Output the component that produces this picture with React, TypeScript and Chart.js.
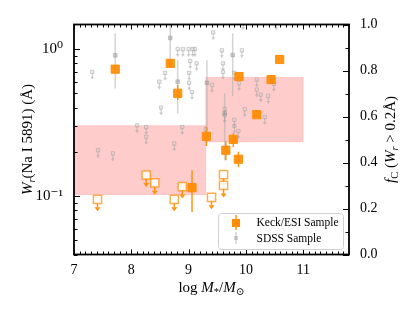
import React, { useEffect, useRef } from 'react';
import { Chart, registerables } from 'chart.js';
Chart.register(...registerables);

// ---------- data ----------
// Keck/ESI detections
const keckDetX = [7.72, 8.68, 8.81, 9.31, 9.88, 10.44, 10.59, 10.19, 9.78, 9.65, 9.87, 9.06];
const keckDetW = [0.73, 0.80, 0.50, 0.255, 0.65, 0.62, 0.85, 0.358, 0.243, 0.205, 0.178, 0.114];
const keckDetLo = [0.72, 0.76, 0.45, 0.219, 0.64, 0.61, 0.84, 0.35, 0.216, 0.175, 0.157, 0.078];
const keckDetHi = [0.74, 0.84, 0.57, 0.295, 0.66, 0.63, 0.86, 0.366, 0.267, 0.237, 0.2, 0.15];
// Keck/ESI upper limits
const keckUlX = [7.41, 8.26, 8.41, 8.75, 8.89, 9.40, 9.61, 9.61];
const keckUlW = [0.095, 0.139, 0.123, 0.095, 0.116, 0.098, 0.14, 0.118];
// SDSS detections
const sdssDetX = [7.72, 8.68, 8.81, 9.32, 9.63, 9.77];
const sdssDetW = [0.906, 1.19, 0.6, 0.59, 0.366, 0.91];
const sdssDetLo = [0.54, 0.78, 0.366, 0.28, 0.175, 0.48];
const sdssDetHi = [1.28, 1.5, 0.84, 0.84, 0.5, 1.28];
// SDSS upper limits
const sdssUlX = [7.32, 7.42, 7.68, 8.10, 8.26, 8.26, 8.49, 8.52, 8.59, 8.75, 8.81, 8.89, 8.90, 9.00, 9.01, 9.01, 9.03, 9.06, 9.07, 9.11, 9.14, 9.30, 9.41, 9.43, 9.58, 9.60, 9.60, 9.63, 9.63, 9.80, 9.80, 9.80, 9.87, 9.88, 9.93, 9.95, 9.98, 10.19, 10.19, 10.26, 10.33, 10.39, 10.49, 10.53];
const sdssUlW = [0.70, 0.205, 0.195, 0.303, 0.295, 0.253, 0.60, 0.40, 0.69, 0.228, 1.0, 0.295, 1.0, 1.0, 0.69, 0.59, 0.83, 0.51, 1.0, 1.0, 0.80, 0.284, 0.57, 1.30, 0.98, 0.80, 0.70, 0.39, 0.355, 0.69, 0.33, 0.30, 0.277, 0.585, 0.98, 1.52, 0.39, 0.62, 0.53, 0.49, 0.345, 0.48, 0.58, 1.52];
// covering fraction boxes (x range, fC range)
const boxXmin = [7.0, 9.3];
const boxXmax = [9.3, 11.0];
const boxFcLo = [0.26, 0.49];
const boxFcHi = [0.56, 0.77];
// ticks
const xTickVals = [7, 8, 9, 10, 11];
const wTickVals = [0.1, 1];
const wTickLabels = ['10\u207B\u00B9', '10\u2070'];
const fcTickVals = [0, 0.2, 0.4, 0.6, 0.8, 1.0];
const legendLabels = ['Keck/ESI Sample', 'SDSS Sample'];

const SERIF = "'Liberation Serif', 'Times New Roman', 'DejaVu Serif', serif";
const ORANGE = 'rgba(255,140,0,0.92)';
const ORANGE_L = 'rgba(255,140,0,0.7)';
const GRAY = 'rgba(150,150,150,0.45)';
const GRAY_L = 'rgba(170,170,170,0.5)';

type Part = { t: string; it?: boolean; sub?: boolean; sup?: boolean };

function drawRich(ctx: CanvasRenderingContext2D, parts: Part[], cx: number, cy: number, rot: number, size: number) {
  ctx.save();
  ctx.translate(cx, cy);
  ctx.rotate(rot);
  ctx.fillStyle = '#000';
  ctx.textBaseline = 'alphabetic';
  ctx.textAlign = 'left';
  const fontFor = (p: Part) => `${p.it ? 'italic ' : ''}${p.sub || p.sup ? size * 0.7 : size}px ${SERIF}`;
  let total = 0;
  const widths = parts.map((p) => {
    ctx.font = fontFor(p);
    const w = ctx.measureText(p.t).width;
    total += w;
    return w;
  });
  let x = -total / 2;
  const base = size * 0.33;
  parts.forEach((p, i) => {
    ctx.font = fontFor(p);
    const dy = p.sub ? size * 0.22 : p.sup ? -size * 0.4 : 0;
    ctx.fillText(p.t, x, base + dy);
    x += widths[i];
  });
  ctx.restore();
}

function arrowDown(ctx: CanvasRenderingContext2D, x: number, y0: number, y1: number, hw: number, hl: number, color: string, lw: number) {
  ctx.strokeStyle = color;
  ctx.fillStyle = color;
  ctx.lineWidth = lw;
  ctx.beginPath();
  ctx.moveTo(x, y0);
  ctx.lineTo(x, y1 - hl + 0.5);
  ctx.stroke();
  ctx.beginPath();
  ctx.moveTo(x - hw / 2, y1 - hl);
  ctx.lineTo(x + hw / 2, y1 - hl);
  ctx.lineTo(x, y1);
  ctx.closePath();
  ctx.fill();
}

const decor = {
  id: 'decor',
  beforeDatasetsDraw(chart: any) {
    const { ctx, chartArea: a, scales } = chart;
    const x = scales.x, y = scales.y, y2 = scales.y2;
    ctx.save();
    ctx.beginPath();
    ctx.rect(a.left, a.top, a.right - a.left, a.bottom - a.top);
    ctx.clip();
    for (let i = 0; i < boxXmin.length; i++) {
      const l = x.getPixelForValue(boxXmin[i]);
      const r = x.getPixelForValue(boxXmax[i]);
      const t = y2.getPixelForValue(boxFcHi[i]);
      const b = y2.getPixelForValue(boxFcLo[i]);
      ctx.fillStyle = 'rgba(255,0,0,0.2)';
      ctx.fillRect(l, t, r - l, b - t);
      ctx.strokeStyle = 'rgba(255,0,0,0.12)';
      ctx.lineWidth = 1;
      ctx.strokeRect(l, t, r - l, b - t);
    }
    for (let i = 0; i < sdssDetX.length; i++) {
      const px = x.getPixelForValue(sdssDetX[i]);
      ctx.strokeStyle = GRAY_L;
      ctx.lineWidth = 1.5;
      ctx.beginPath();
      ctx.moveTo(px, y.getPixelForValue(sdssDetLo[i]));
      ctx.lineTo(px, y.getPixelForValue(sdssDetHi[i]));
      ctx.stroke();
    }
    for (let i = 0; i < sdssUlX.length; i++) {
      const px = x.getPixelForValue(sdssUlX[i]);
      const py = y.getPixelForValue(sdssUlW[i]);
      arrowDown(ctx, px, py + 1, py + 8, 4, 3, GRAY, 1.2);
    }
    for (let i = 0; i < keckDetX.length; i++) {
      const px = x.getPixelForValue(keckDetX[i]);
      ctx.strokeStyle = ORANGE;
      ctx.lineWidth = 1.5;
      ctx.beginPath();
      ctx.moveTo(px, y.getPixelForValue(keckDetLo[i]));
      ctx.lineTo(px, y.getPixelForValue(keckDetHi[i]));
      ctx.stroke();
    }
    for (let i = 0; i < keckUlX.length; i++) {
      const px = x.getPixelForValue(keckUlX[i]);
      const py = y.getPixelForValue(keckUlW[i]);
      arrowDown(ctx, px, py + 3, py + 12, 6, 4, ORANGE, 1.5);
    }
    ctx.restore();
  },
  afterDraw(chart: any) {
    const { ctx, chartArea: a, scales } = chart;
    const x = scales.x, y = scales.y, y2 = scales.y2;
    ctx.save();
    ctx.strokeStyle = '#000';
    ctx.lineWidth = 1.8;
    ctx.strokeRect(a.left, a.top, a.right - a.left, a.bottom - a.top);
    ctx.lineWidth = 1;
    ctx.beginPath();
    for (let i = 70; i <= 118; i++) {
      const px = Math.round(x.getPixelForValue(i / 10)) + 0.5;
      const len = i % 10 === 0 ? 5 : 3;
      ctx.moveTo(px, a.bottom);
      ctx.lineTo(px, a.bottom - len);
      ctx.moveTo(px, a.top);
      ctx.lineTo(px, a.top + len);
    }
    for (const d of [0.01, 0.1, 1]) {
      for (let m = 1; m <= 9; m++) {
        const v = m * d;
        if (v < y.min || v > y.max) continue;
        const py = Math.round(y.getPixelForValue(v)) + 0.5;
        const len = m === 1 ? 6 : 3.5;
        ctx.moveTo(a.left, py);
        ctx.lineTo(a.left + len, py);
      }
    }
    for (let i = 0; i <= 10; i++) {
      const py = Math.round(y2.getPixelForValue(i / 10)) + 0.5;
      const len = i % 2 === 0 ? 6 : 3.5;
      ctx.moveTo(a.right, py);
      ctx.lineTo(a.right - len, py);
    }
    ctx.stroke();

    drawRich(ctx, [
      { t: 'W', it: true }, { t: 'r', it: true, sub: true }, { t: '(Na I 5891) (\u00C5)' },
    ], 27, (a.top + a.bottom) / 2, -Math.PI / 2, 15);
    drawRich(ctx, [
      { t: 'log ' }, { t: 'M', it: true }, { t: '*', sub: true }, { t: '/' }, { t: 'M', it: true }, { t: '\u2299', sub: true },
    ], (a.left + a.right) / 2, 287, 0, 15);
    drawRich(ctx, [
      { t: 'f', it: true }, { t: 'C', sub: true }, { t: ' (' }, { t: 'W', it: true }, { t: 'r', it: true, sub: true }, { t: ' > 0.2\u00C5)' },
    ], 390, (a.top + a.bottom) / 2, -Math.PI / 2, 15);

    const lx = 218.5, ly = 213.5, lw = 125, lh = 36;
    ctx.beginPath();
    ctx.roundRect(lx, ly, lw, lh, 3);
    ctx.fillStyle = 'rgba(255,255,255,0.8)';
    ctx.fill();
    ctx.strokeStyle = '#d0d0d0';
    ctx.lineWidth = 1;
    ctx.stroke();
    const mx = 236;
    ctx.strokeStyle = ORANGE;
    ctx.lineWidth = 1.5;
    ctx.beginPath();
    ctx.moveTo(mx, 215); ctx.lineTo(mx, 230);
    ctx.stroke();
    ctx.fillStyle = 'rgb(255,140,0)';
    ctx.fillRect(mx - 4, 223 - 4, 8, 8);
    ctx.strokeStyle = GRAY_L;
    ctx.beginPath();
    ctx.moveTo(mx, 232); ctx.lineTo(mx, 244);
    ctx.stroke();
    ctx.fillStyle = GRAY;
    ctx.fillRect(mx - 2, 238 - 2, 4, 4);
    ctx.fillStyle = '#000';
    ctx.font = `11.5px ${SERIF}`;
    ctx.textBaseline = 'middle';
    ctx.textAlign = 'left';
    ctx.fillText(legendLabels[0], 256.5, 223);
    ctx.fillText(legendLabels[1], 256.5, 238.5);
    ctx.restore();
  },
};

export default function App() {
  const ref = useRef<HTMLCanvasElement | null>(null);
  useEffect(() => {
    if (!ref.current) return;
    const chart = new Chart(ref.current, {
      type: 'scatter',
      data: {
        datasets: [
          {
            label: 'Keck det',
            data: keckDetX.map((v, i) => ({ x: v, y: keckDetW[i] })),
            pointStyle: 'rect',
            pointRadius: 5.8,
            backgroundColor: ORANGE,
            borderColor: ORANGE,
            borderWidth: 1,
          },
          {
            label: 'Keck ul',
            data: keckUlX.map((v, i) => ({ x: v, y: keckUlW[i] })),
            pointStyle: 'rect',
            pointRadius: 5.8,
            backgroundColor: 'rgba(255,255,255,0.85)',
            borderColor: ORANGE_L,
            borderWidth: 1.5,
          },
          {
            label: 'SDSS det',
            data: sdssDetX.map((v, i) => ({ x: v, y: sdssDetW[i] })),
            pointStyle: 'rect',
            pointRadius: 2.6,
            backgroundColor: GRAY,
            borderColor: GRAY,
            borderWidth: 1,
          },
          {
            label: 'SDSS ul',
            data: sdssUlX.map((v, i) => ({ x: v, y: sdssUlW[i] })),
            pointStyle: 'rect',
            pointRadius: 2.4,
            backgroundColor: 'rgba(200,200,200,0.35)',
            borderColor: 'rgba(150,150,150,0.4)',
            borderWidth: 1,
          },
        ],
      },
      options: {
        animation: false,
        responsive: false,
        devicePixelRatio: 1,
        layout: { padding: { top: 24.5, left: 0, right: 0, bottom: 0 } },
        plugins: { legend: { display: false }, tooltip: { enabled: false } },
        scales: {
          x: {
            type: 'linear',
            position: 'bottom',
            min: 7,
            max: 11.8,
            grid: { display: false },
            border: { display: false },
            afterBuildTicks: (s: any) => { s.ticks = xTickVals.map((v) => ({ value: v })); },
            ticks: { color: '#000', font: { family: SERIF, size: 14 }, padding: -1, maxRotation: 0, autoSkip: false, callback: (v: any) => String(v) },
            afterFit: (s: any) => { s.height = 56.5; },
          },
          y: {
            type: 'logarithmic',
            position: 'left',
            min: 0.04,
            max: 1.47,
            grid: { display: false },
            border: { display: false },
            afterBuildTicks: (s: any) => { s.ticks = wTickVals.map((v) => ({ value: v })); },
            ticks: {
              color: '#000', font: { family: SERIF, size: 15 }, padding: 3, autoSkip: false,
              callback: (v: any) => { const i = wTickVals.indexOf(Number(v)); return i >= 0 ? wTickLabels[i] : ''; },
            },
            afterFit: (s: any) => { s.width = 74; },
          },
          y2: {
            type: 'linear',
            position: 'right',
            min: 0,
            max: 1,
            grid: { display: false },
            border: { display: false },
            afterBuildTicks: (s: any) => { s.ticks = fcTickVals.map((v) => ({ value: v })); },
            ticks: { color: '#000', font: { family: SERIF, size: 14 }, padding: 3, autoSkip: false, callback: (v: any) => Number(v).toFixed(1) },
            afterFit: (s: any) => { s.width = 66; },
          },
        },
      },
      plugins: [decor],
    } as any);
    return () => chart.destroy();
  }, []);
  return (
    <div style={{ position: 'absolute', left: 0, top: 0, width: 415, height: 311, background: '#fff' }}>
      <canvas ref={ref} width={415} height={311} style={{ width: 415, height: 311 }} />
    </div>
  );
}
